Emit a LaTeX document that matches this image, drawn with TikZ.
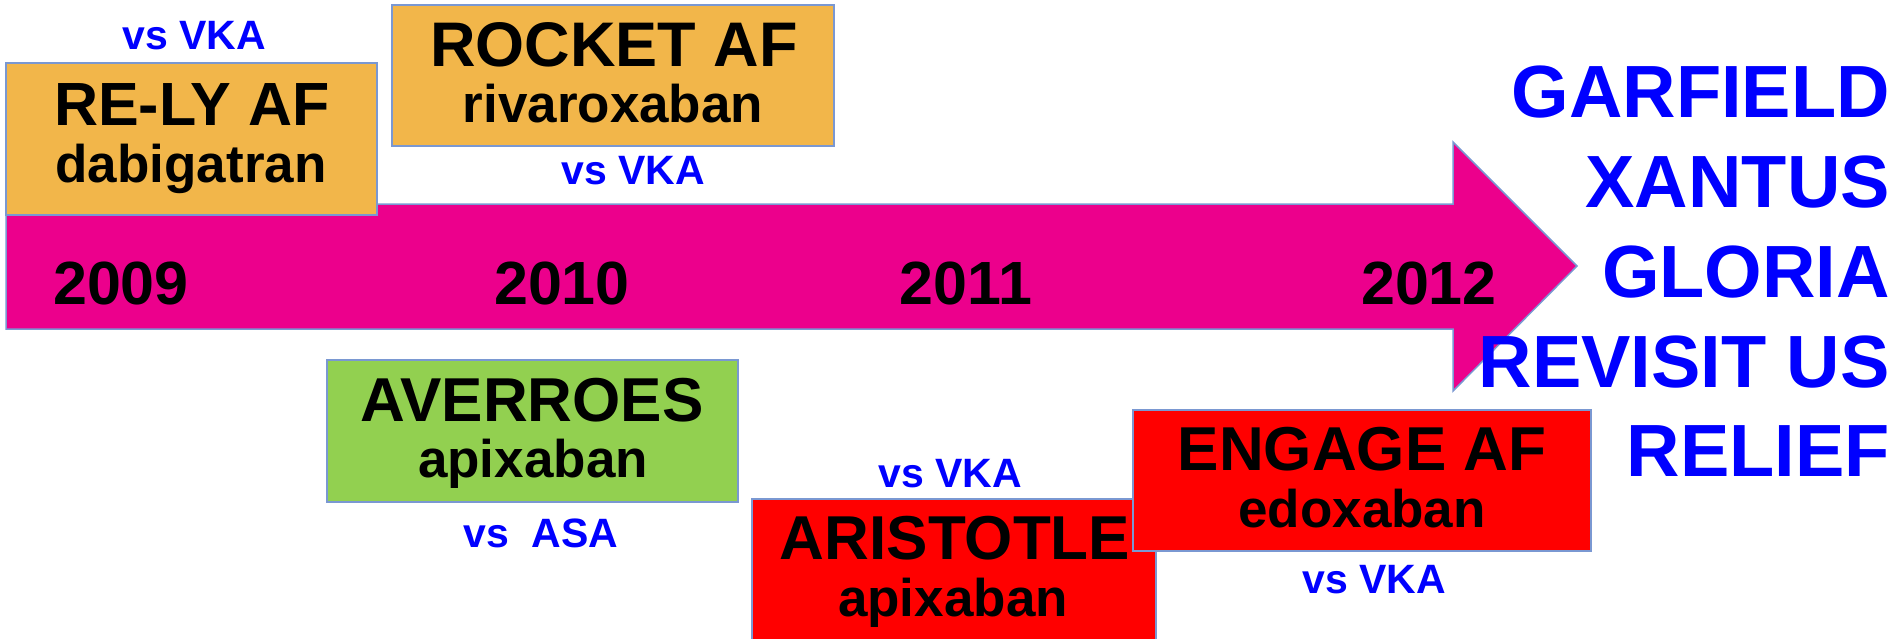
\documentclass[tikz,border=0pt]{standalone}
\usepackage{fontspec}
\setmainfont{Liberation Sans}
\newcommand{\fsz}[1]{\fontsize{#1}{#1}\selectfont\bfseries}
\definecolor{trialorange}{HTML}{F2B64A}
\definecolor{trialgreen}{HTML}{92D050}
\definecolor{trialred}{HTML}{FF0000}
\definecolor{arrowpink}{HTML}{EC008C}
\definecolor{edgeblue}{HTML}{7A98D2}
\definecolor{textblue}{HTML}{0000FF}
\tikzset{
  trialbox/.style={draw=edgeblue, line width=2.2pt, inner sep=0pt, outer sep=0pt},
  title/.style={anchor=base, inner sep=0pt, font=\fsz{62}},
  drug/.style={anchor=base, inner sep=0pt, font=\fsz{53}},
  versus/.style={anchor=base, inner sep=0pt, text=textblue, font=\fsz{41}},
  year/.style={anchor=base, inner sep=0pt, font=\fsz{61}},
  registry/.style={anchor=base east, inner sep=0pt, text=textblue, font=\fsz{74}}
}
\begin{document}
\begin{tikzpicture}[x=1pt, y=-1pt]
\useasboundingbox (0,0) rectangle (1901,638);

% timeline arrow
\draw[fill=arrowpink, draw=edgeblue, line width=1.5pt, line join=miter]
  (6,204) -- (1453,204) -- (1453,142) -- (1577,266) -- (1453,391)
  -- (1453,329) -- (6,329) -- cycle;

% trial boxes
\node[trialbox, fill=trialorange, minimum width=371pt, minimum height=152pt] (rely) at (191.5,139) {};
\node[trialbox, fill=trialorange, minimum width=442pt, minimum height=141pt] (rocket) at (613,75.5) {};
\node[trialbox, fill=trialgreen, minimum width=411pt, minimum height=142pt] (averroes) at (532.5,431) {};
\node[trialbox, fill=trialred, minimum width=404pt, minimum height=202pt] (aristotle) at (954,600) {};
\node[trialbox, fill=trialred, minimum width=458pt, minimum height=141pt] (engage) at (1362,480.5) {};

% years
\node[year] (y2009) at (121,304) {2009};
\node[year] (y2010) at (562,304) {2010};
\node[year] (y2011) at (966,304) {2011};
\node[year] (y2012) at (1429,304) {2012};

% RE-LY AF
\node[versus] (relyvs) at (194,49) {vs VKA};
\node[title, font=\fsz{61}] (relyname) at (192,125) {RE-LY AF};
\node[drug] (relydrug) at (191,182) {dabigatran};

% ROCKET AF
\node[title, font=\fsz{63}] (rocketname) at (614,66) {ROCKET AF};
\node[drug] (rocketdrug) at (613,122) {rivaroxaban};
\node[versus] (rocketvs) at (633,184) {vs VKA};

% AVERROES
\node[title] (averroesname) at (532,421) {AVERROES};
\node[drug] (averroesdrug) at (533,477) {apixaban};
\node[versus] (averroesvs) at (541,547) {vs\ \ ASA};

% ARISTOTLE
\node[versus] (aristotlevs) at (950,487) {vs VKA};
\node[title] (aristotlename) at (955,559) {ARISTOTLE};
\node[drug] (aristotledrug) at (953,616) {apixaban};

% ENGAGE AF
\node[title] (engagename) at (1362,470) {ENGAGE AF};
\node[drug] (engagedrug) at (1362,527) {edoxaban};
\node[versus] (engagevs) at (1374,593) {vs VKA};

% further trials
\node[registry] (garfield) at (1890,117) {GARFIELD};
\node[registry] (xantus) at (1890,207) {XANTUS};
\node[registry] (gloria) at (1890,297) {GLORIA};
\node[registry] (revisit) at (1890,387) {REVISIT US};
\node[registry] (relief) at (1890,476) {RELIEF};
\end{tikzpicture}
\end{document}
